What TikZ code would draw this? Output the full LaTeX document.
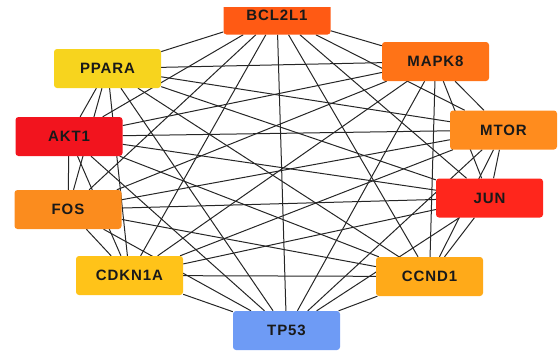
\documentclass[tikz,border=0pt]{standalone}
\usepackage{fontspec}
\setmainfont{Liberation Sans}
\newfontfamily\genefont[LetterSpace=6]{Liberation Sans}
\usetikzlibrary{backgrounds}
\definecolor{cBCL}{HTML}{FF5A14}
\definecolor{cMAPK}{HTML}{FF7317}
\definecolor{cMTOR}{HTML}{FF8C1E}
\definecolor{cJUN}{HTML}{FF261C}
\definecolor{cCCND}{HTML}{FFAA19}
\definecolor{cTP}{HTML}{6E9BF5}
\definecolor{cCDKN}{HTML}{FFC319}
\definecolor{cFOS}{HTML}{FB8C1E}
\definecolor{cAKT}{HTML}{F2141E}
\definecolor{cPPARA}{HTML}{F7D41E}
\tikzset{gene/.style={rectangle, rounded corners=3pt, minimum width=107pt, minimum height=39pt,
  inner sep=0pt, font=\genefont\bfseries\fontsize{15}{15}\selectfont, text=black!90}}
\begin{document}
\begin{tikzpicture}[x=1pt, y=-1pt]
\useasboundingbox (0,0) rectangle (559,351);
\clip (0,7) rectangle (559,351);
\node[gene, fill=cBCL](bcl) at (277,15){BCL2L1};
\node[gene, fill=cMAPK](mapk) at (435.5,61.5){MAPK8};
\node[gene, fill=cMTOR](mtor) at (503.5,130){MTOR};
\node[gene, fill=cJUN](jun) at (489.5,198){JUN};
\node[gene, fill=cCCND](ccnd) at (429.5,276.5){CCND1};
\node[gene, fill=cTP](tp) at (286.5,330.5){TP53};
\node[gene, fill=cCDKN](cdkn) at (129.5,275.5){CDKN1A};
\node[gene, fill=cFOS](fos) at (68,209.5){FOS};
\node[gene, fill=cAKT](akt) at (69,136.5){AKT1};
\node[gene, fill=cPPARA](ppara) at (107.5,68.5){PPARA};
\begin{scope}[on background layer]
\foreach \a [count=\i] in {bcl,mapk,mtor,jun,ccnd,tp,cdkn,fos,akt,ppara}
  \foreach \b [count=\j] in {bcl,mapk,mtor,jun,ccnd,tp,cdkn,fos,akt,ppara}
    {\ifnum\j>\i \draw[black!85, line width=1pt](\a)--(\b); \fi}
\end{scope}
\end{tikzpicture}
\end{document}
